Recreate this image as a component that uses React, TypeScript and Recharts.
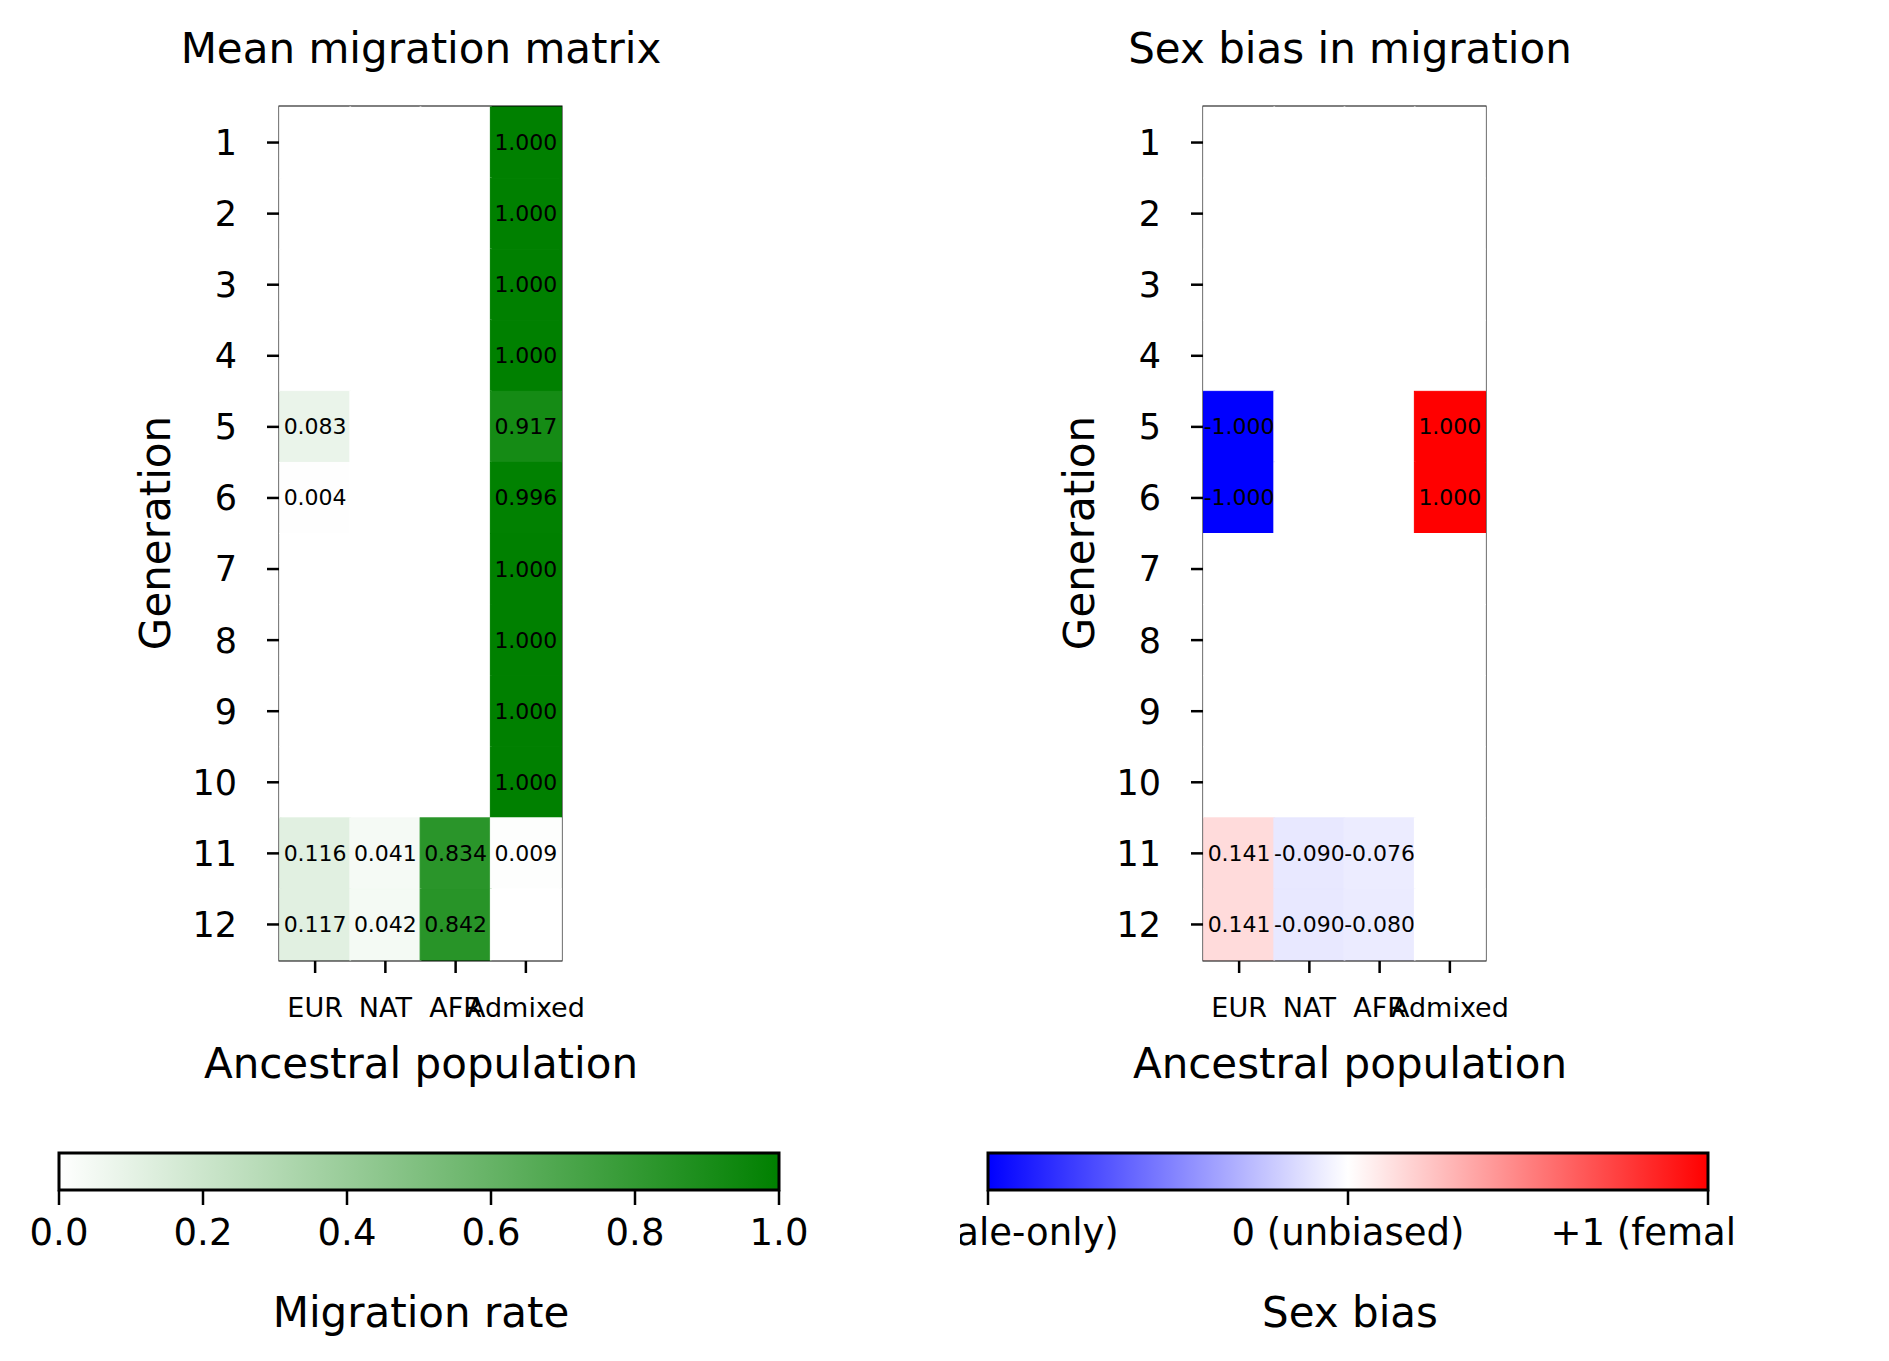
import { ComposedChart, Line, ReferenceArea, Scatter, ScatterChart, XAxis, YAxis } from "recharts";

const POPULATIONS = ["EUR", "NAT", "AFR", "Admixed"];
const GENERATIONS = [1, 2, 3, 4, 5, 6, 7, 8, 9, 10, 11, 12];

const MIGRATION = [
  [0, 0, 0, 1.0],
  [0, 0, 0, 1.0],
  [0, 0, 0, 1.0],
  [0, 0, 0, 1.0],
  [0.083, 0, 0, 0.917],
  [0.004, 0, 0, 0.996],
  [0, 0, 0, 1.0],
  [0, 0, 0, 1.0],
  [0, 0, 0, 1.0],
  [0, 0, 0, 1.0],
  [0.116, 0.041, 0.834, 0.009],
  [0.117, 0.042, 0.842, 0],
];

const SEX_BIAS = [
  [0, 0, 0, 0],
  [0, 0, 0, 0],
  [0, 0, 0, 0],
  [0, 0, 0, 0],
  [-1.0, 0, 0, 1.0],
  [-1.0, 0, 0, 1.0],
  [0, 0, 0, 0],
  [0, 0, 0, 0],
  [0, 0, 0, 0],
  [0, 0, 0, 0],
  [0.141, -0.09, -0.076, 0],
  [0.141, -0.09, -0.08, 0],
];

const FONT = "DejaVu Sans";
const CELL_W = 71;
const CELL_H = 853 / 12;

function greenColor(v: number) {
  const rb = Math.round(255 * (1 - v));
  const g = Math.round(255 - 127 * v);
  return `rgb(${rb},${g},${rb})`;
}

function bwrColor(v: number) {
  if (v >= 0) {
    const c = Math.round(255 * (1 - v));
    return `rgb(255,${c},${c})`;
  }
  const c = Math.round(255 * (1 + v));
  return `rgb(${c},${c},255)`;
}

function toCells(matrix: number[][]) {
  const out: { x: number; y: number; v: number }[] = [];
  matrix.forEach((row, i) =>
    row.forEach((v, j) => out.push({ x: j, y: GENERATIONS[i], v }))
  );
  return out;
}

function cellShape(colorFn: (v: number) => string) {
  return (props: any) => {
    const { cx, cy, payload } = props;
    const v = payload.v as number;
    const fill = colorFn(v);
    return (
      <g>
        <rect
          x={cx - CELL_W / 2}
          y={cy - CELL_H / 2}
          width={CELL_W}
          height={CELL_H}
          fill={fill}
          stroke={fill}
          strokeWidth={1}
        />
        {v !== 0 && (
          <text
            x={cx}
            y={cy}
            textAnchor="middle"
            dominantBaseline="central"
            fontSize={22}
            fontFamily={FONT}
            fill="#000"
          >
            {v.toFixed(3)}
          </text>
        )}
      </g>
    );
  };
}

function Heatmap({ matrix, colorFn }: { matrix: number[][]; colorFn: (v: number) => string }) {
  return (
    <ScatterChart width={640} height={1100} margin={{ top: 107, left: 180, right: 79, bottom: 80 }}>
      <XAxis
        type="number"
        dataKey="x"
        domain={[-0.5, 3.5]}
        ticks={[0, 1, 2, 3]}
        tickFormatter={(t: number) => POPULATIONS[t]}
        tick={{ fontSize: 27, fontFamily: FONT, fill: "#000" }}
        tickLine={{ stroke: "#000", strokeWidth: 2.5 }}
        tickSize={13}
        tickMargin={25}
        axisLine={false}
        height={60}
        interval={0}
      />
      <YAxis
        type="number"
        dataKey="y"
        domain={[0.5, 12.5]}
        ticks={GENERATIONS}
        reversed
        tick={{ fontSize: 35, fontFamily: FONT, fill: "#000" }}
        tickLine={{ stroke: "#000", strokeWidth: 2.5 }}
        tickSize={13}
        tickMargin={30}
        axisLine={false}
        width={100}
        interval={0}
      />
      <Scatter data={toCells(matrix)} shape={cellShape(colorFn)} isAnimationActive={false} />
      <ReferenceArea
        x1={-0.5}
        x2={3.5}
        y1={0.5}
        y2={12.5}
        fill="none"
        fillOpacity={0}
        stroke="#000"
        strokeWidth={3}
        ifOverflow="visible"
      />
    </ScatterChart>
  );
}

function Colorbar({
  id,
  domain,
  ticks,
  labels,
  stops,
}: {
  id: string;
  domain: [number, number];
  ticks: number[];
  labels: string[];
  stops: string[];
}) {
  return (
    <ComposedChart
      width={776}
      height={130}
      data={[{ x: domain[0], y: 0 }, { x: domain[1], y: 0 }]}
      margin={{ top: 13, left: 28, right: 28, bottom: 0 }}
      style={{ overflow: "visible" }}
    >
      <defs>
        <linearGradient id={id} x1="0" y1="0" x2="1" y2="0">
          {stops.map((c, i) => (
            <stop key={i} offset={i / (stops.length - 1)} stopColor={c} />
          ))}
        </linearGradient>
      </defs>
      <XAxis
        type="number"
        dataKey="x"
        domain={domain}
        ticks={ticks}
        tickFormatter={(t: number) => labels[ticks.indexOf(t)]}
        tick={{ fontSize: 37, fontFamily: FONT, fill: "#000" }}
        tickLine={{ stroke: "#000", strokeWidth: 2.5 }}
        tickSize={15}
        tickMargin={14}
        axisLine={false}
        height={80}
        interval={0}
      />
      <YAxis hide domain={[0, 1]} />
      <Line dataKey="y" stroke="none" dot={false} isAnimationActive={false} />
      <ReferenceArea
        x1={domain[0]}
        x2={domain[1]}
        y1={0}
        y2={1}
        fill={`url(#${id})`}
        fillOpacity={1}
        stroke="#000"
        strokeWidth={3}
        ifOverflow="visible"
      />
    </ComposedChart>
  );
}

const textStyle = (x: number, y: number, size: number, rotate = false): React.CSSProperties => ({
  position: "absolute",
  left: x,
  top: y,
  transform: `translate(-50%, -50%)${rotate ? " rotate(-90deg)" : ""}`,
  fontSize: size,
  fontFamily: FONT,
  whiteSpace: "nowrap",
  color: "#000",
});

export default function App() {
  const dx = 924;
  return (
    <div style={{ position: "absolute", left: 0, top: 0, width: 1889, height: 1361, background: "#fff", overflow: "hidden" }}>
      <div style={{ position: "absolute", left: 0, top: 0 }}>
        <Heatmap matrix={MIGRATION} colorFn={greenColor} />
      </div>
      <div style={{ position: "absolute", left: dx, top: 0 }}>
        <Heatmap matrix={SEX_BIAS} colorFn={bwrColor} />
      </div>
      <div style={textStyle(421, 48, 42)}>Mean migration matrix</div>
      <div style={textStyle(1350, 48, 42)}>Sex bias in migration</div>
      <div style={textStyle(155, 533, 42, true)}>Generation</div>
      <div style={textStyle(155 + dx, 533, 42, true)}>Generation</div>
      <div style={textStyle(421, 1063, 42)}>Ancestral population</div>
      <div style={textStyle(1350, 1063, 42)}>Ancestral population</div>

      <div style={{ position: "absolute", left: 31, top: 1140 }}>
        <Colorbar
          id="greens"
          domain={[0, 1]}
          ticks={[0, 0.2, 0.4, 0.6, 0.8, 1]}
          labels={["0.0", "0.2", "0.4", "0.6", "0.8", "1.0"]}
          stops={["#ffffff", "#008000"]}
        />
      </div>
      <div style={{ position: "absolute", left: 960, top: 1140 }}>
        <Colorbar
          id="bwr"
          domain={[-1, 1]}
          ticks={[-1, 0, 1]}
          labels={["-1 (male-only)", "0 (unbiased)", "+1 (female-only)"]}
          stops={["#0000ff", "#ffffff", "#ff0000"]}
        />
      </div>
      <div style={textStyle(421, 1312, 42)}>Migration rate</div>
      <div style={textStyle(1350, 1312, 42)}>Sex bias</div>
    </div>
  );
}
